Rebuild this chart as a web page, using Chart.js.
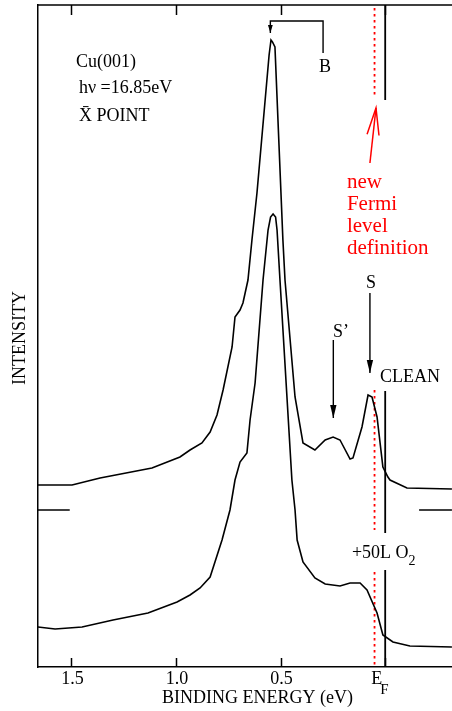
<!DOCTYPE html>
<html>
<head>
<meta charset="utf-8">
<script src="https://cdn.jsdelivr.net/npm/chart.js@4.4.1/dist/chart.umd.min.js"></script>
<style>
  html, body { margin: 0; padding: 0; background: #fff; }
  canvas { display: block; }
</style>
</head>
<body>
<canvas id="spectrum" width="452" height="711"></canvas>
<script>
// binding energy (eV) / intensity (arb. units) of the clean surface
const cleanEnergy = [1.660, 1.497, 1.363, 1.115, 0.981, 0.933, 0.876, 0.837, 0.804, 0.775,
	0.732, 0.718, 0.694, 0.680, 0.656, 0.637, 0.613, 0.555, 0.546, 0.539,
	0.527, 0.489, 0.479, 0.431, 0.393, 0.336, 0.287, 0.249, 0.216, 0.168,
	0.154, 0.111, 0.082, 0.063, 0.039, 0.011, -0.013, -0.023, -0.104, -0.319];
const cleanIntensity = [182, 182, 189, 199, 210, 217, 224, 235, 252, 277,
	320, 350, 357, 364, 387, 427, 474, 612, 627, 625,
	620, 427, 387, 270, 224, 217, 227, 230, 227, 208,
	209, 240, 272, 270, 250, 200, 190, 187, 179, 178];

// after 50 L of O2
const o2Energy = [1.660, 1.578, 1.449, 1.301, 1.134, 0.995, 0.933, 0.885, 0.837, 0.780,
	0.742, 0.718, 0.694, 0.661, 0.646, 0.622, 0.584, 0.560, 0.548, 0.536,
	0.524, 0.517, 0.503, 0.446, 0.431, 0.421, 0.393, 0.336, 0.287, 0.216,
	0.168, 0.120, 0.087, 0.039, 0.011, -0.037, -0.118, -0.319];
const o2Intensity = [40, 38, 40, 47, 54, 65, 72, 79, 90, 127,
	157, 187, 205, 214, 247, 284, 387, 437, 450, 453,
	450, 437, 387, 187, 157, 127, 105, 89, 83, 81,
	84, 84, 77, 54, 32, 25, 21, 20];

// zero level of the upper spectrum, marked at both edges
const baselineLevel = 157;
const baselineLeftEnergy = [1.66, 1.508];
const baselineRightEnergy = [-0.162, -0.319];

// Fermi edge and the new Fermi level, broken around the labels
const fermiEnergy = 0;
const fermiSegments = [[662, 567], [276, 134], [97, 0]];
const newFermiEnergy = 0.051;
const newFermiSegments = [[659, 572], [277, 137], [95, 0]];

// peak markers
const sArrowEnergy = [0.073, 0.073];
const sArrowIntensity = [374, 294];
const sPrimeArrowEnergy = [0.248, 0.248];
const sPrimeArrowIntensity = [327, 249];
const bBracketEnergy = [0.297, 0.297, 0.549, 0.549];
const bBracketIntensity = [614, 646, 646, 634];
const newFermiArrowEnergy = [0.073, 0.044];
const newFermiArrowIntensity = [504, 559];

const tickValues = [1.5, 1.0, 0.5, 0];
const tickLabels = ["1.5", "1.0", "0.5", "E"];

const SERIF = '"Liberation Serif", "Times New Roman", serif';

function pts(xs, ys) {
	return xs.map((v, i) => ({ x: v, y: ys[i] }));
}

function vertical(e, segs) {
	const out = [];
	segs.forEach(([a, b]) => out.push({ x: e, y: a }, { x: e, y: b }, { x: e, y: null }));
	return out;
}

function arrowHead(ctx, from, to, head) {
	const ang = Math.atan2(to.y - from.y, to.x - from.x);
	const bx = to.x - Math.cos(ang) * head.len;
	const by = to.y - Math.sin(ang) * head.len;
	const nx = -Math.sin(ang) * head.half;
	const ny = Math.cos(ang) * head.half;
	ctx.save();
	ctx.strokeStyle = head.color;
	ctx.fillStyle = head.color;
	ctx.lineWidth = 1.5;
	ctx.beginPath();
	if (head.open) {
		ctx.moveTo(bx + nx, by + ny);
		ctx.lineTo(to.x, to.y);
		ctx.lineTo(bx - nx, by - ny);
		ctx.stroke();
	} else {
		ctx.moveTo(to.x, to.y);
		ctx.lineTo(bx + nx, by + ny);
		ctx.lineTo(bx - nx, by - ny);
		ctx.closePath();
		ctx.fill();
	}
	ctx.restore();
}

function text(ctx, str, x, y, size, color, align) {
	ctx.font = size + "px " + SERIF;
	ctx.fillStyle = color || "#000";
	ctx.textAlign = align || "left";
	ctx.textBaseline = "alphabetic";
	ctx.fillText(str, x, y);
}

const decorations = {
	id: "decorations",
	afterDatasetsDraw(chart) {
		const ctx = chart.ctx;
		chart.data.datasets.forEach((ds, i) => {
			if (!ds.arrowHead) return;
			const pts = chart.getDatasetMeta(i).data;
			const a = pts[pts.length - 2], b = pts[pts.length - 1];
			arrowHead(ctx, { x: a.x, y: a.y }, { x: b.x, y: b.y }, ds.arrowHead);
		});
	},
	afterDraw(chart) {
		const { ctx, chartArea: area, scales: { x, y } } = chart;
		const px = (e) => x.getPixelForValue(e);
		const py = (v) => y.getPixelForValue(v);

		ctx.save();
		// top frame line and inward ticks
		ctx.strokeStyle = "#000";
		ctx.lineWidth = 1.5;
		ctx.beginPath();
		ctx.moveTo(area.left, area.top);
		ctx.lineTo(area.right, area.top);
		tickValues.forEach((v) => {
			const xp = Math.round(px(v)) + 0.5;
			ctx.moveTo(xp, area.top);
			ctx.lineTo(xp, area.top + 10);
			ctx.moveTo(xp, area.bottom);
			ctx.lineTo(xp, area.bottom - 9);
		});
		ctx.stroke();

		// tick labels
		tickValues.forEach((v, i) => {
			if (v === 0) {
				text(ctx, tickLabels[i], px(v) - 14, 684, 18);
				text(ctx, "F", px(v) - 5, 694, 15);
			} else {
				text(ctx, tickLabels[i], px(v) + 1, 684, 18, "#000", "center");
			}
		});
		text(ctx, "BINDING ENERGY (eV)", px(0.61), 703, 18, "#000", "center");

		ctx.save();
		ctx.translate(25, 338);
		ctx.rotate(-Math.PI / 2);
		text(ctx, "INTENSITY", 0, 0, 18, "#000", "center");
		ctx.restore();

		// sample and peak labels
		text(ctx, "Cu(001)", px(1.478), py(600), 18);
		text(ctx, "h\u03bd =16.85eV", px(1.464), py(574), 18);
		text(ctx, "X\u0304 POINT", px(1.464), py(546), 18);
		text(ctx, "B", px(0.317), py(595), 18);
		text(ctx, "S", px(0.068), py(379), 18, "#000", "center");
		text(ctx, "S\u2019", px(0.249), py(330), 18);
		text(ctx, "CLEAN", px(0.025), py(285), 18);
		text(ctx, "+50L O", px(0.159), py(109), 18);
		ctx.font = "18px " + SERIF;
		const w = ctx.measureText("+50L O").width;
		text(ctx, "2", px(0.159) + w, py(109) + 7, 14);

		["new", "Fermi", "level", "definition"].forEach((s, i) => {
			text(ctx, s, px(0.183), py(479) + i * 22, 21, "#ff0000");
		});
		ctx.restore();
	}
};

const line = (data, extra) => Object.assign({
	data,
	borderColor: "#000",
	borderWidth: 1.6,
	pointRadius: 0,
	fill: false,
	tension: 0,
	spanGaps: false
}, extra);

new Chart(document.getElementById("spectrum"), {
	type: "line",
	data: {
		datasets: [
			line(pts(cleanEnergy, cleanIntensity)),
			line(pts(o2Energy, o2Intensity)),
			line(pts(baselineLeftEnergy, [baselineLevel, baselineLevel])),
			line(pts(baselineRightEnergy, [baselineLevel, baselineLevel])),
			line(vertical(fermiEnergy, fermiSegments), { borderWidth: 1.8 }),
			line(vertical(newFermiEnergy, newFermiSegments), {
				borderColor: "#ff0000", borderWidth: 1.8, borderDash: [2.5, 3.5]
			}),
			line(pts(sArrowEnergy, sArrowIntensity), {
				borderWidth: 1.4, arrowHead: { len: 13, half: 3.2, color: "#000" }
			}),
			line(pts(sPrimeArrowEnergy, sPrimeArrowIntensity), {
				borderWidth: 1.4, arrowHead: { len: 13, half: 3.2, color: "#000" }
			}),
			line(pts(bBracketEnergy, bBracketIntensity), {
				borderWidth: 1.4, arrowHead: { len: 8, half: 2.4, color: "#000" }
			}),
			line(pts(newFermiArrowEnergy, newFermiArrowIntensity), {
				borderColor: "#ff0000", borderWidth: 1.5,
				arrowHead: { len: 27, half: 6, color: "#ff0000", open: true }
			})
		]
	},
	options: {
		responsive: false,
		animation: false,
		devicePixelRatio: 1,
		layout: { padding: { top: 5, left: 0, right: 0, bottom: 0 } },
		plugins: {
			legend: { display: false },
			tooltip: { enabled: false }
		},
		scales: {
			x: {
				type: "linear",
				reverse: true,
				min: -0.3193,
				max: 1.6597,
				grid: { display: false },
				ticks: { display: false },
				border: { display: true, color: "#000", width: 1.5 },
				afterFit(scale) { scale.height = 44; }
			},
			y: {
				type: "linear",
				min: 0,
				max: 662,
				grid: { display: false },
				ticks: { display: false },
				border: { display: true, color: "#000", width: 1.5 },
				afterFit(scale) { scale.width = 38; }
			}
		}
	},
	plugins: [decorations]
});
</script>
</body>
</html>
